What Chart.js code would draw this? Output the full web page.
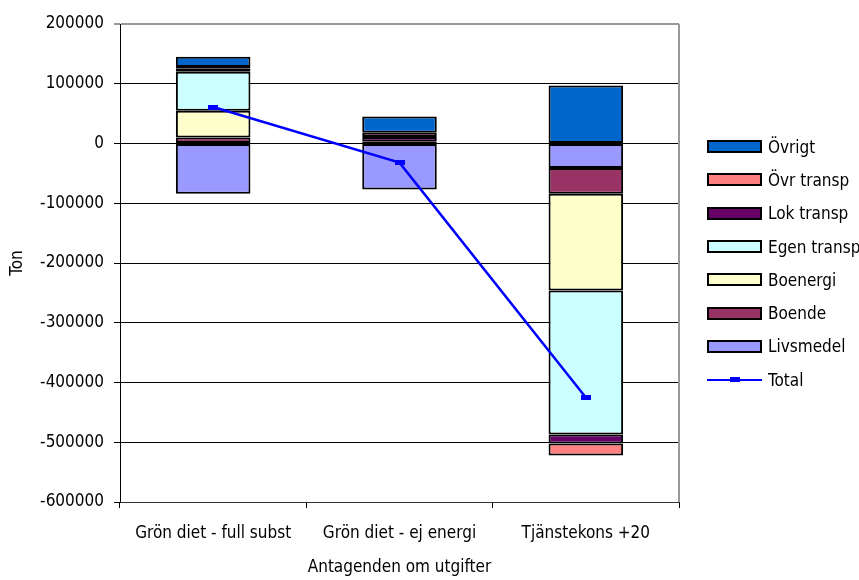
<!DOCTYPE html>
<html lang="sv">
  <head>
    <meta charset="UTF-8" />
    <title>Antagenden om utgifter</title>
    <style>
      body {
        margin: 0;
        background: #fff;
      }
      .container {
        position: relative;
        width: 859px;
        height: 580px;
      }
      #legend {
        position: absolute;
        left: 707px;
        top: 130px;
      }
      #legend ul {
        list-style: none;
        margin: 0;
        padding: 0;
      }
      #legend li {
        display: flex;
        align-items: center;
        height: 33.3px;
        white-space: nowrap;
        font: 17px "Liberation Sans Narrow", "DejaVu Sans Condensed", sans-serif;
        color: #000;
      }
    </style>
    <script src="https://cdn.jsdelivr.net/npm/chart.js"></script>
  </head>
  <body>
    <div class="container">
      <canvas id="chart" width="859" height="580"></canvas>
      <div id="legend"></div>
    </div>
    <script>
      const categories = ["Grön diet - full subst", "Grön diet - ej energi", "Tjänstekons +20"];
      const livsmedel = [-84000, -77000, -41000];
      const boende = [10000, 0, -43000];
      const boenergi = [45000, 0, -162000];
      const egenTransp = [65000, 3000, -241000];
      const lokTransp = [5000, 8000, -15000];
      const ovrTransp = [3000, 7000, -20000];
      const ovrigt = [17000, 27000, 97000];
      const total = [61000, -32000, -425000];
      const yTicks = [200000, 100000, 0, -100000, -200000, -300000, -400000, -500000, -600000];

      const FONT = "'Liberation Sans Narrow', 'DejaVu Sans Condensed', sans-serif";
      Chart.defaults.font.family = FONT;
      Chart.defaults.font.size = 17;
      Chart.defaults.color = "#000";

      // marker for the Total line: small flat rectangle
      const marker = document.createElement("canvas");
      marker.width = 10;
      marker.height = 5;
      const mctx = marker.getContext("2d");
      mctx.fillStyle = "#0000FF";
      mctx.fillRect(0, 0, 10, 5);

      const bar = (label, data, color) => ({
        label,
        data,
        backgroundColor: color,
        borderColor: "#000",
        borderWidth: 2,
        borderSkipped: false,
      });

      // gray frame on the right of the plot
      const framePlugin = {
        id: "frame",
        beforeDatasetsDraw(chart) {
          const { ctx, chartArea } = chart;
          ctx.save();
          ctx.strokeStyle = "#999";
          ctx.lineWidth = 2;
          ctx.beginPath();
          ctx.moveTo(chartArea.right, chartArea.top);
          ctx.lineTo(chartArea.right, chartArea.bottom);
          ctx.stroke();
          ctx.restore();
        },
      };

      const chart = new Chart(document.getElementById("chart"), {
        type: "bar",
        data: {
          labels: categories,
          datasets: [
            {
              type: "line",
              label: "Total",
              data: total,
              stack: "total",
              borderColor: "#0000FF",
              backgroundColor: "#0000FF",
              borderWidth: 2.5,
              pointStyle: marker,
              tension: 0,
            },
            bar("Livsmedel", livsmedel, "#9999FF"),
            bar("Boende", boende, "#993366"),
            bar("Boenergi", boenergi, "#FFFFCC"),
            bar("Egen transp", egenTransp, "#CCFFFF"),
            bar("Lok transp", lokTransp, "#660066"),
            bar("Övr transp", ovrTransp, "#FF8080"),
            bar("Övrigt", ovrigt, "#0066CC"),
          ],
        },
        options: {
          responsive: false,
          animation: false,
          categoryPercentage: 1,
          barPercentage: 0.4,
          layout: { padding: { top: 24, right: 180, bottom: 0, left: 0 } },
          plugins: {
            legend: { display: false },
            tooltip: { enabled: false },
          },
          scales: {
            x: {
              stacked: true,
              grid: { drawOnChartArea: false, tickLength: 6, color: "#000", offset: true },
              border: { color: "#333" },
              ticks: { padding: 15, maxRotation: 0 },
              title: { display: true, text: "Antagenden om utgifter", padding: { top: 0, bottom: 2 } },
              afterFit: (s) => {
                s.height = 78;
              },
            },
            y: {
              stacked: true,
              min: yTicks[yTicks.length - 1],
              max: yTicks[0],
              afterBuildTicks: (s) => {
                s.ticks = yTicks.map((v) => ({ value: v }));
              },
              ticks: { padding: 10, callback: (v) => String(v) },
              grid: {
                tickLength: 6,
                color: (c) => (c.tick && c.tick.value === yTicks[0] ? "#999" : "#000"),
                lineWidth: (c) => (c.tick && c.tick.value === yTicks[0] ? 2 : 1),
              },
              border: { color: "#000" },
              title: { display: true, text: "Ton", padding: { top: 7, bottom: 0 } },
              afterFit: (s) => {
                s.width = 120;
              },
            },
          },
        },
        plugins: [framePlugin],
      });

      // html legend: bars top-down in reverse stack order, then Total
      const ul = document.createElement("ul");
      const ds = chart.data.datasets;
      const order = ds.slice(1).reverse().concat([ds[0]]);
      order.forEach((d) => {
        const li = document.createElement("li");
        const sym = document.createElement("span");
        sym.style.display = "inline-block";
        sym.style.flex = "none";
        sym.style.marginRight = "6px";
        if (d.type === "line") {
          sym.style.position = "relative";
          sym.style.width = "55px";
          sym.style.height = "13px";
          const ln = document.createElement("span");
          ln.style.cssText = "position:absolute;left:0;right:0;top:5.5px;height:2px;background:" + d.borderColor;
          const pt = document.createElement("span");
          pt.style.cssText = "position:absolute;left:23px;width:10px;top:4px;height:5px;background:" + d.borderColor;
          sym.appendChild(ln);
          sym.appendChild(pt);
        } else {
          sym.style.width = "51px";
          sym.style.height = "9px";
          sym.style.border = "2px solid #000";
          sym.style.background = d.backgroundColor;
        }
        li.appendChild(sym);
        li.appendChild(document.createTextNode(d.label));
        ul.appendChild(li);
      });
      document.getElementById("legend").appendChild(ul);
    </script>
  </body>
</html>
